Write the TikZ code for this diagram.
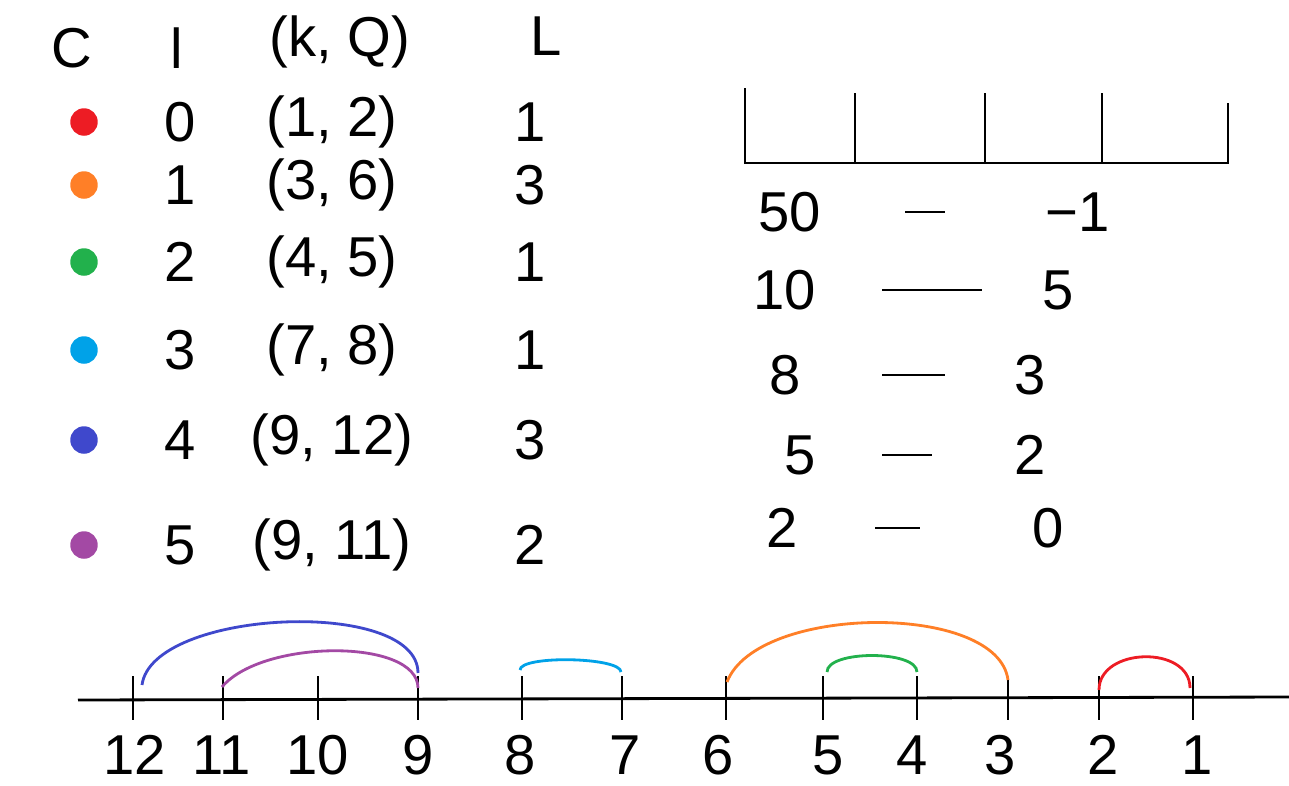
\documentclass[tikz,border=0pt]{standalone}
\usepackage{fontspec}
\setmainfont{Liberation Sans}
\usetikzlibrary{calc}

\definecolor{pRed}{HTML}{ED1C24}
\definecolor{pOrange}{HTML}{FF7F27}
\definecolor{pGreen}{HTML}{22B14C}
\definecolor{pCyan}{HTML}{00A2E8}
\definecolor{pBlue}{HTML}{3F48CC}
\definecolor{pPurple}{HTML}{A349A4}

\begin{document}
\begin{tikzpicture}[
  x=0.02cm, y=-0.02cm,
  font=\fontsize{32}{38}\selectfont,
  line width=1.6pt,
  txt/.style={inner sep=0pt},
  dot/.style={circle, fill=#1, inner sep=0pt, minimum size=0.55cm},
  arc/.style={draw=#1, line width=1.6pt}
]
\useasboundingbox (0,0) rectangle (1289,785);

% left table
\node[txt] (hc) at (72,48) {C};
\node[txt] (hi) at (177,48) {l};
\node[txt] (hiv) at (340,42) {(k, Q)};
\node[txt] (hl) at (546,36) {L};
\foreach \i/\c/\y/\iv/\len in {0/pRed/122/{(1, 2)}/1, 1/pOrange/185/{(3, 6)}/3,
    2/pGreen/262/{(4, 5)}/1, 3/pCyan/350/{(7, 8)}/1,
    4/pBlue/440/{(9, 12)}/3, 5/pPurple/545/{(9, 11)}/2} {
  \node[dot=\c] (dot\i) at (84,\y) {};
  \node[txt] (idx\i) at (180,\y) {\i};
  \node[txt] (iv\i) at (332,\y) {\iv};
  \node[txt] (len\i) at (530,\y) {\len};
}

% right table
\draw (745,88) -- (745,163) -- (1228,163) -- (1228,103);
\foreach \x in {855,985,1102}
  \draw (\x,93) -- (\x,163);
\foreach \i/\y/\k/\kx/\v/\vx/\ds/\dl in {1/212/50/790/−1/1078/115/40,
    2/290/10/785/5/1058/97/100, 3/375/8/785/3/1030/97/63,
    4/455/5/800/2/1030/82/50, 5/528/2/782/0/1048/93/45} {
  \node[txt] (k\i) at (\kx,\y) {\k};
  \node[txt] (v\i) at (\vx,\y) {\v};
  \draw (k\i.center) ++(\ds,0) -- ++(\dl,0);
}

% number line
\draw (78,700) -- (1289,697);
\foreach \n/\x/\lx in {12/133/135, 11/223/222, 10/318/318, 9/418/418,
    8/522/520, 7/622/625, 6/726/718, 5/823/828, 4/917/912,
    3/1008/1000, 2/1099/1103, 1/1193/1197} {
  \coordinate (t\n) at (\x,699);
  \draw (t\n) ++(0,-23) -- ++(0,44);
  \node[txt] (n\n) at (\lx,755) {\n};
}

% intervals
\coordinate (b0) at (142,685); \coordinate (b1) at (418,673);
\coordinate (m0) at (222,687); \coordinate (m1) at (418,688);
\coordinate (c0) at (520,670); \coordinate (c1) at (621,672);
\coordinate (o0) at (727,682); \coordinate (o1) at (1008,680);
\coordinate (g0) at (827,672); \coordinate (g1) at (917,672);
\coordinate (r0) at (1099,690); \coordinate (r1) at (1190,688);
\draw[arc=pBlue] (b0) .. controls +(10,-76) and +(0,-76) .. (b1);
\draw[arc=pPurple] (m0) .. controls +(40,-48) and +(0,-50) .. (m1);
\draw[arc=pCyan] (c0) .. controls +(0,-15) and +(0,-15) .. (c1);
\draw[arc=pOrange] (o0) .. controls +(30,-78) and +(-10,-78) .. (o1);
\draw[arc=pGreen] (g0) .. controls +(0,-22) and +(0,-22) .. (g1);
\draw[arc=pRed] (r0) .. controls +(0,-43) and +(0,-43) .. (r1);

\end{tikzpicture}
\end{document}
